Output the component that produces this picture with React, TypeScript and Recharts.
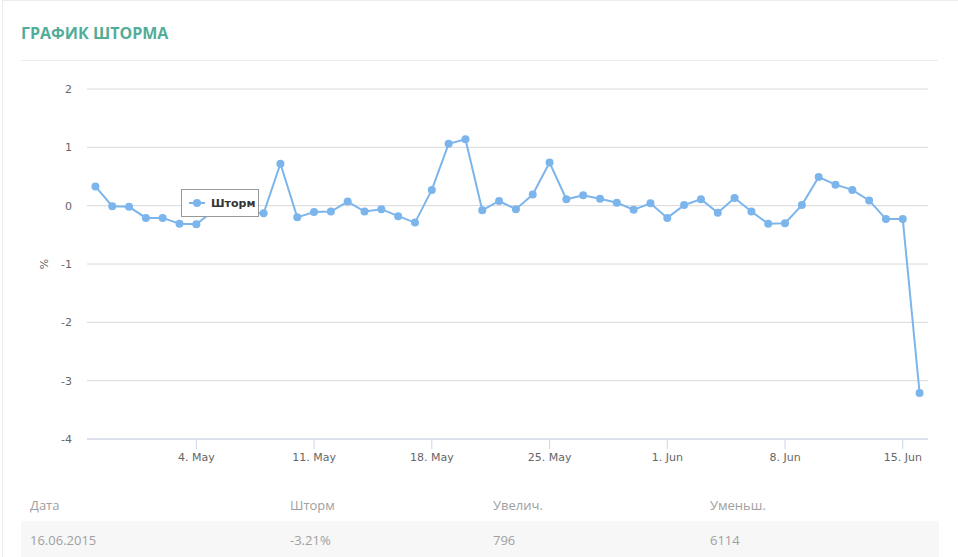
import React from 'react';
import { LineChart, Line, XAxis, YAxis, CartesianGrid, Legend, Label } from 'recharts';

// Dates (one point per day, 28 Apr – 16 Jun 2015)
const dates: string[] = [
  '28.04', '29.04', '30.04', '01.05', '02.05', '03.05', '04.05', '05.05', '06.05', '07.05',
  '08.05', '09.05', '10.05', '11.05', '12.05', '13.05', '14.05', '15.05', '16.05', '17.05',
  '18.05', '19.05', '20.05', '21.05', '22.05', '23.05', '24.05', '25.05', '26.05', '27.05',
  '28.05', '29.05', '30.05', '31.05', '01.06', '02.06', '03.06', '04.06', '05.06', '06.06',
  '07.06', '08.06', '09.06', '10.06', '11.06', '12.06', '13.06', '14.06', '15.06', '16.06',
];

const stormValues: number[] = [
  0.33, -0.01, -0.02, -0.21, -0.21, -0.31, -0.32, -0.09, -0.1, -0.12,
  -0.13, 0.72, -0.2, -0.11, -0.1, 0.07, -0.1, -0.06, -0.18, -0.29,
  0.27, 1.06, 1.14, -0.08, 0.08, -0.06, 0.19, 0.74, 0.11, 0.18,
  0.12, 0.05, -0.07, 0.04, -0.21, 0.01, 0.11, -0.12, 0.13, -0.1,
  -0.31, -0.3, 0.01, 0.49, 0.36, 0.27, 0.09, -0.23, -0.23, -3.21,
];

const xTickIndices: number[] = [6, 13, 20, 27, 34, 41, 48];
const xTickLabels: string[] = ['4. May', '11. May', '18. May', '25. May', '1. Jun', '8. Jun', '15. Jun'];
const yTicks: number[] = [-4, -3, -2, -1, 0, 1, 2];

const tableHeaders: string[] = ['Дата', 'Шторм', 'Увелич.', 'Уменьш.'];
const tableRow: string[] = ['16.06.2015', '-3.21%', '796', '6114'];
const columnLefts: number[] = [30, 290, 493, 710];

const data = dates.map((d, i) => ({ idx: i, date: d, storm: stormValues[i] }));

const LINE_COLOR = '#7cb5ec';
const AXIS_FONT = '"DejaVu Sans", Verdana, sans-serif';

const LegendContent = () => (
  <div
    style={{
      width: 78,
      height: 28,
      border: '1px solid #999',
      background: '#fff',
      boxSizing: 'border-box',
      display: 'flex',
      alignItems: 'center',
      fontFamily: AXIS_FONT,
      whiteSpace: 'nowrap',
    }}
  >
    <svg width={16} height={12} style={{ display: 'block', marginLeft: 7, marginRight: 6, flex: 'none' }}>
      <line x1={0} y1={6} x2={16} y2={6} stroke={LINE_COLOR} strokeWidth={2} />
      <circle cx={8} cy={6} r={4} fill={LINE_COLOR} />
    </svg>
    <span style={{ fontSize: 11, fontWeight: 'bold', color: '#333' }}>Шторм</span>
  </div>
);

const XTick = (props: any) => {
  const { x, y, payload } = props;
  const i = xTickIndices.indexOf(payload.value);
  return (
    <g>
      <line x1={x} y1={y - 12} x2={x} y2={y - 2} stroke="#ccd6eb" strokeWidth={1} />
      <text x={x} y={y + 10} textAnchor="middle" fill="#666" fontSize={11} fontFamily={AXIS_FONT}>
        {i >= 0 ? xTickLabels[i] : ''}
      </text>
    </g>
  );
};

export default function App() {
  return (
    <div
      style={{
        position: 'absolute',
        left: 0,
        top: 0,
        width: 958,
        height: 557,
        background: '#fff',
        overflow: 'hidden',
        fontFamily: '"Open Sans", sans-serif',
      }}
    >
      <div
        style={{
          position: 'absolute',
          left: 2,
          top: 0,
          width: 990,
          height: 600,
          border: '1px solid #ececec',
          boxSizing: 'border-box',
        }}
      />
      <div
        style={{
          position: 'absolute',
          left: 21,
          top: 22,
          fontSize: 16,
          fontWeight: 700,
          color: '#52ad98',
          lineHeight: '22px',
          whiteSpace: 'nowrap',
        }}
      >
        ГРАФИК ШТОРМА
      </div>
      <div style={{ position: 'absolute', left: 21, top: 60, width: 917, height: 1, background: '#ececec' }} />

      <div style={{ position: 'absolute', left: 0, top: 0 }}>
        <LineChart
          width={958}
          height={480}
          data={data}
          margin={{ top: 89, right: 30, bottom: 11, left: 47 }}
        >
          <CartesianGrid horizontal vertical={false} stroke="#d8d8d8" />
          <XAxis
            dataKey="idx"
            type="number"
            domain={[-0.5, 49.5]}
            ticks={xTickIndices}
            interval={0}
            height={30}
            axisLine={{ stroke: '#ccd6eb' }}
            tickLine={false}
            tick={<XTick />}
            tickSize={0}
            tickMargin={12}
          />
          <YAxis
            type="number"
            domain={[-4, 2]}
            ticks={yTicks}
            interval={0}
            width={40}
            axisLine={false}
            tickLine={false}
            tickSize={0}
            tickMargin={15}
            tick={{ fill: '#666', fontSize: 11, fontFamily: AXIS_FONT }}
          >
            <Label
              content={(p: any) => {
                const vb = p.viewBox || { x: 47, y: 89, width: 40, height: 350 };
                const cx = vb.x - 3;
                const cy = vb.y + vb.height / 2;
                return (
                  <text
                    x={cx}
                    y={cy}
                    transform={`rotate(-90 ${cx} ${cy})`}
                    textAnchor="middle"
                    dominantBaseline="central"
                    fill="#666"
                    fontSize={11}
                    fontFamily={AXIS_FONT}
                  >
                    %
                  </text>
                );
              }}
            />
          </YAxis>
          <Legend
            layout="horizontal"
            verticalAlign="middle"
            align="center"
            content={<LegendContent />}
            wrapperStyle={{ top: 189, left: 181, width: 78, height: 28 }}
          />
          <Line
            type="linear"
            dataKey="storm"
            name="Шторм"
            stroke={LINE_COLOR}
            strokeWidth={2}
            dot={{ r: 4, fill: LINE_COLOR, stroke: LINE_COLOR, strokeWidth: 0 }}
            activeDot={false}
            isAnimationActive={false}
          />
        </LineChart>
      </div>

      <div style={{ position: 'absolute', left: 21, top: 521, width: 918, height: 36, background: '#f7f7f7' }} />
      {tableHeaders.map((h, i) => (
        <div
          key={'h' + i}
          style={{
            position: 'absolute',
            left: columnLefts[i],
            top: 495,
            fontSize: 13,
            color: '#a0a0a0',
            lineHeight: '20px',
            whiteSpace: 'nowrap',
          }}
        >
          {h}
        </div>
      ))}
      {tableRow.map((c, i) => (
        <div
          key={'r' + i}
          style={{
            position: 'absolute',
            left: columnLefts[i],
            top: 530,
            fontSize: 13,
            color: '#a0a0a0',
            lineHeight: '20px',
            whiteSpace: 'nowrap',
          }}
        >
          {c}
        </div>
      ))}
    </div>
  );
}
